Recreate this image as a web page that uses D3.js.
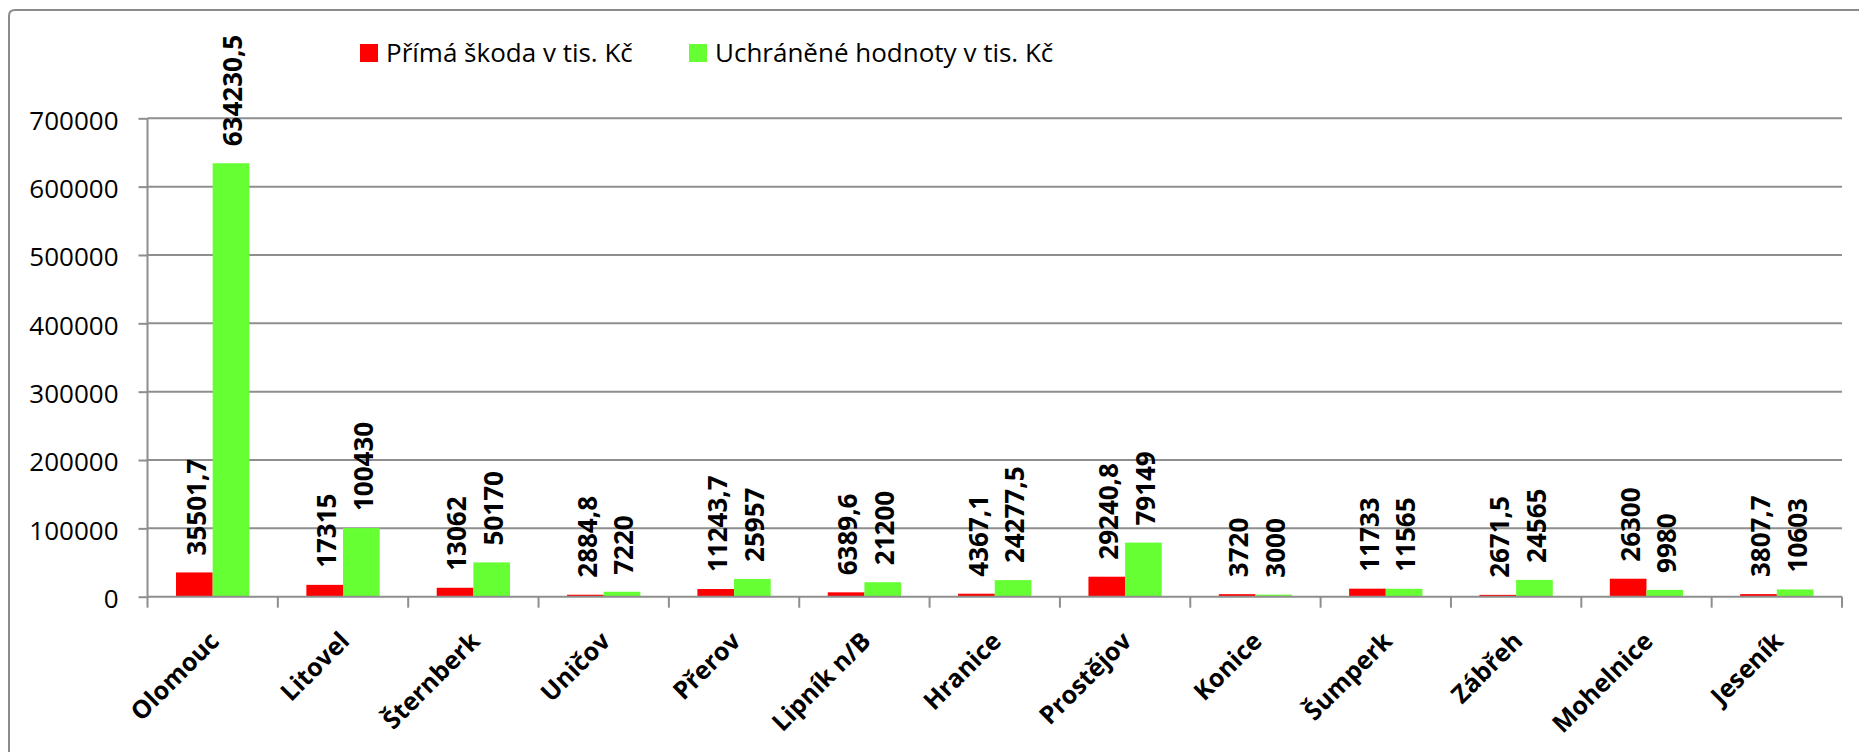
<!DOCTYPE html>
<html>
<head>
<meta charset="utf-8">
<script src="https://cdn.jsdelivr.net/npm/d3@7"></script>
<style>
  html, body { margin: 0; padding: 0; background: #fff; }
  svg { display: block; }
  text { font-family: "Open Sans", "Noto Sans", sans-serif; fill: #000; }
</style>
</head>
<body>
<svg id="chart" width="1859" height="752"></svg>
<script>
const categories = ["Olomouc", "Litovel", "Šternberk", "Uničov", "Přerov", "Lipník n/B", "Hranice",
                    "Prostějov", "Konice", "Šumperk", "Zábřeh", "Mohelnice", "Jeseník"];
const primaSkoda = [35501.7, 17315, 13062, 2884.8, 11243.7, 6389.6, 4367.1, 29240.8, 3720, 11733, 2671.5, 26300, 3807.7];
const uchraneneHodnoty = [634230.5, 100430, 50170, 7220, 25957, 21200, 24277.5, 79149, 3000, 11565, 24565, 9980, 10603];
const seriesNames = ["Přímá škoda v tis. Kč", "Uchráněné hodnoty v tis. Kč"];
const seriesColors = ["#ff0000", "#66ff33"];
const yTicks = [0, 100000, 200000, 300000, 400000, 500000, 600000, 700000];

(function () {
const svg = d3.select("#chart");
const W = 1859, H = 752;
const pLeft = 147.5, pRight = 1842, pTop = 118.3, pBottom = 596.7;
const gridColor = "#8e8e8e";

// outer frame
svg.append("path")
  .attr("d", `M9,${H + 5} L9,16 Q9,10 15,10 L${W + 5},10`)
  .attr("fill", "none").attr("stroke", "#8c8c8c").attr("stroke-width", 2);

const x = d3.scaleBand().domain(categories).range([pLeft, pRight]).paddingInner(0).paddingOuter(0);
const y = d3.scaleLinear().domain([0, 700000]).range([pBottom, pTop]);
const bw = x.bandwidth();
const groupW = bw * 0.5625;
const step = groupW / 2;
const po = (bw / step - 2) / 2;
const xs = d3.scaleBand().domain([0, 1]).range([0, bw]).paddingInner(0).paddingOuter(po);

// gridlines
svg.append("g").selectAll("line").data(yTicks.filter(d => d > 0)).join("line")
  .attr("x1", pLeft).attr("x2", pRight)
  .attr("y1", d => y(d)).attr("y2", d => y(d))
  .attr("stroke", gridColor).attr("stroke-width", 2);

// bars
const series = [primaSkoda, uchraneneHodnoty];
series.forEach((vals, si) => {
  svg.append("g").selectAll("rect").data(vals).join("rect")
    .attr("x", (d, i) => x(categories[i]) + xs(si))
    .attr("width", xs.bandwidth())
    .attr("y", d => y(d))
    .attr("height", d => y(0) - y(d))
    .attr("fill", seriesColors[si]);
});

// y axis
const yAxis = d3.axisLeft(y).tickValues(yTicks).tickSize(9).tickFormat(d3.format("d"));
const gy = svg.append("g").attr("transform", `translate(${pLeft},0)`).call(yAxis);
gy.select(".domain").attr("stroke", gridColor).attr("stroke-width", 2).attr("d", `M0,${pTop}V${pBottom}`);
gy.selectAll(".tick line").attr("stroke", gridColor).attr("stroke-width", 2);
gy.selectAll(".tick text")
  .attr("x", -29).attr("dy", "0.42em")
  .style("font-family", '"Open Sans", sans-serif').style("font-size", "26px").attr("fill", "#000");

// x axis
const xAxis = d3.axisBottom(x).tickSize(0).tickFormat("");
const gx = svg.append("g").attr("transform", `translate(0,${pBottom})`).call(xAxis);
gx.select(".domain").attr("stroke", gridColor).attr("stroke-width", 2).attr("d", `M${pLeft},0H${pRight}`);
const bounds = categories.map(c => x(c)).concat([pRight]);
gx.selectAll("line.bnd").data(bounds).join("line").attr("class", "bnd")
  .attr("x1", d => d).attr("x2", d => d).attr("y1", 0).attr("y2", 11)
  .attr("stroke", gridColor).attr("stroke-width", 2);

// category labels
svg.append("g").selectAll("text").data(categories).join("text")
  .attr("transform", d => `translate(${x(d) + bw / 2 + 8},${pBottom + 46}) rotate(-45)`)
  .attr("text-anchor", "end")
  .style("font-size", "25px").style("font-weight", "bold")
  .text(d => d);

// data labels
const fmt = v => String(v).replace(".", ",");
series.forEach((vals, si) => {
  svg.append("g").selectAll("text").data(vals).join("text")
    .attr("transform", (d, i) => `translate(${x(categories[i]) + xs(si) + xs.bandwidth() / 2 + 2},${y(d) - 17}) rotate(-90)`)
    .attr("dy", "0.36em")
    .attr("text-anchor", "start")
    .style("font-size", "26px").style("font-weight", "bold")
    .text(d => fmt(d));
});

// legend
const legendX = [360, 689];
const leg = svg.append("g");
seriesNames.forEach((name, i) => {
  leg.append("rect").attr("x", legendX[i]).attr("y", 44).attr("width", 18).attr("height", 18).attr("fill", seriesColors[i]);
  leg.append("text").attr("x", legendX[i] + 26).attr("y", 62)
    .style("font-size", "26px").text(name);
});
})();
</script>
</body>
</html>
